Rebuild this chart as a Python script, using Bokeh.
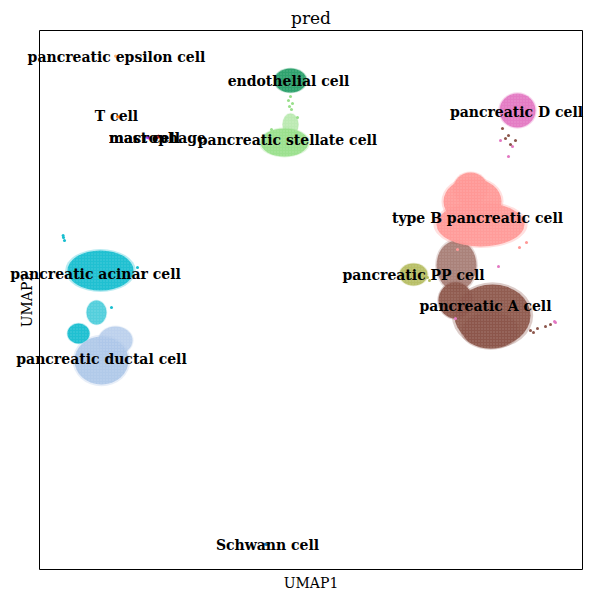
import math

from bokeh.plotting import figure
from bokeh.models import ColumnDataSource, Range1d
from bokeh.core.properties import value
from bokeh.embed import file_html
from bokeh.resources import INLINE

# categories and the scanpy default colours, in category order
cell_types = ["Schwann cell", "T cell", "endothelial cell", "macrophage", "mast cell",
              "pancreatic A cell", "pancreatic D cell", "pancreatic PP cell",
              "pancreatic acinar cell", "pancreatic ductal cell", "pancreatic epsilon cell",
              "pancreatic stellate cell", "type B pancreatic cell"]
palette = ["#1f77b4", "#ff7f0e", "#279e68", "#d62728", "#aa40fc", "#8c564b", "#e377c2",
           "#b5bd61", "#17becf", "#aec7e8", "#ffbb78", "#98df8a", "#ff9896"]

# cluster medians (where the labels go)
label_x = [9.4, 1.85, 10.45, 3.9, 3.25, 20.3, 21.85, 16.7, 0.8, 1.1, 1.85, 10.4, 19.9]
label_y = [-0.75, 20.7, 22.45, 19.6, 19.6, 11.2, 20.9, 12.75, 12.8, 8.55, 23.65, 19.5, 15.6]

# dense parts of each cluster (centre, spread, density)
blob_type = ["pancreatic ductal cell", "pancreatic ductal cell",
             "pancreatic acinar cell", "pancreatic acinar cell", "pancreatic acinar cell",
             "endothelial cell", "pancreatic stellate cell", "pancreatic stellate cell",
             "pancreatic D cell", "pancreatic A cell",
             "type B pancreatic cell", "type B pancreatic cell", "type B pancreatic cell",
             "pancreatic A cell", "pancreatic A cell", "pancreatic A cell",
             "pancreatic PP cell"]
blob_x = [1.1, 1.8, 1.05, 0.85, -0.05, 10.55, 10.25, 10.55, 21.9, 18.85,
          20.05, 19.65, 19.55, 20.65, 20.55, 18.8, 16.7]
blob_y = [8.45, 9.45, 12.95, 10.85, 9.8, 22.45, 19.35, 20.25, 20.95, 13.2,
          15.25, 16.4, 17.05, 10.7, 9.95, 11.45, 12.75]
blob_w = [2.7, 1.7, 3.3, 1.0, 1.1, 1.6, 2.4, 0.8, 1.8, 2.0,
          4.4, 2.9, 1.7, 3.8, 2.8, 1.7, 1.4]
blob_h = [2.4, 1.4, 2.0, 1.2, 1.0, 1.2, 1.4, 1.1, 1.7, 2.5,
          2.2, 2.3, 1.6, 3.1, 1.8, 1.8, 1.1]
blob_density = [1, 0.8, 1, 0.7, 1, 1, 1, 0.6, 1, 0.7,
                1, 1, 1, 1, 1, 1, 1]

# single cells and small groups
pt_type = (["Schwann cell"] * 2 + ["T cell"] * 2 + ["pancreatic epsilon cell"] * 2
           + ["mast cell"] * 3 + ["macrophage"] * 4 + ["pancreatic stellate cell"] * 7
           + ["pancreatic D cell"] * 3 + ["pancreatic A cell"] * 10
           + ["pancreatic D cell"] * 4 + ["pancreatic acinar cell"] * 5
           + ["type B pancreatic cell"] * 3 + ["pancreatic PP cell"] * 2)
pt_x = [9.35, 9.3, 1.9, 1.97, 1.85, 1.8,
        3.4, 3.47, 3.44, 3.8, 3.9, 4.05, 3.95,
        10.55, 10.45, 10.65, 10.5, 10.6, 9.6, 10.9,
        21.05, 21.65, 21.45,
        21.15, 21.45, 21.8, 21.3, 21.55, 22.55, 22.9, 23.3, 23.55, 22.7,
        23.8, 23.75, 18.8, 20.95,
        -0.8, -0.75, -0.82, 2.9, 1.6,
        22.35, 22.0, 18.9,
        17.4, 17.5]
pt_y = [-0.75, -0.72, 20.65, 20.62, 23.65, 23.67,
        19.6, 19.57, 19.64, 19.65, 19.6, 19.62, 19.68,
        21.65, 21.45, 21.3, 21.15, 21.0, 20.0, 20.6,
        19.45, 19.15, 18.65,
        20.05, 19.7, 19.45, 19.55, 19.25, 9.95, 10.05, 10.15, 10.25, 9.85,
        10.35, 10.4, 10.55, 13.15,
        14.6, 14.45, 14.7, 13.1, 11.1,
        14.35, 14.1, 14.0,
        12.6, 12.45]

# axes limits of the UMAP panel
x_lim = (-2.0, 25.15)
y_lim = (-2.0, 24.95)

colour_of = dict(zip(cell_types, palette))

blobs = ColumnDataSource(dict(
    x=blob_x, y=blob_y, w=blob_w, h=blob_h,
    hw=[w * 1.07 for w in blob_w], hh=[h * 1.07 for h in blob_h],
    alpha=[0.95 * d for d in blob_density], halo=[0.3 * d for d in blob_density],
    color=[colour_of[t] for t in blob_type]))
points = ColumnDataSource(dict(x=pt_x, y=pt_y, color=[colour_of[t] for t in pt_type]))
labels = ColumnDataSource(dict(x=label_x, y=label_y, text=cell_types))

# the frame fills the whole canvas (20 px per unit) so that labels can run
# past the axes box, as matplotlib lets them; the box itself is drawn below
W, H = 592, 599
pad_l, pad_r, pad_t, pad_b = 39, 10, 30, 30
ppu = (W - pad_l - pad_r) / (x_lim[1] - x_lim[0])
x_full = (x_lim[0] - pad_l / ppu, x_lim[1] + pad_r / ppu)
y_full = (y_lim[0] - pad_b / ppu, y_lim[1] + pad_t / ppu)

p = figure(width=W, height=H, x_range=Range1d(*x_full), y_range=Range1d(*y_full),
           output_backend="svg", toolbar_location=None,
           x_axis_location=None, y_axis_location=None, min_border=0)
p.title.visible = False
p.grid.visible = False
p.outline_line_color = None

p.ellipse(x="x", y="y", width="hw", height="hh", source=blobs, fill_color="color",
          fill_alpha="halo", line_color=None)
p.ellipse(x="x", y="y", width="w", height="h", source=blobs, fill_color="color",
          fill_alpha="alpha", line_color=None,
          hatch_pattern="dot", hatch_color="white", hatch_alpha=0.2, hatch_scale=3)
p.scatter(x="x", y="y", source=points, size=3, fill_color="color", line_color=None)

# axes box
p.quad(left=[x_lim[0]], right=[x_lim[1]], bottom=[y_lim[0]], top=[y_lim[1]],
       fill_color=None, line_color="black", line_width=1)

p.text(x="x", y="y", text="text", source=labels, text_font=value("DejaVu Serif"),
       text_font_style="bold", text_font_size="14px", text_align="center",
       text_baseline="middle", text_color="black")

x_mid = (x_lim[0] + x_lim[1]) / 2
y_mid = (y_lim[0] + y_lim[1]) / 2
p.text(x=[x_mid], y=[y_lim[1] + 13 / ppu], text=["pred"], text_font=value("DejaVu Serif"),
       text_font_size="17px", text_align="center", text_baseline="middle",
       text_color="black")
p.text(x=[x_mid], y=[y_lim[0] - 13 / ppu], text=["UMAP1"], text_font=value("DejaVu Serif"),
       text_font_size="14px", text_align="center", text_baseline="middle",
       text_color="black")
p.text(x=[x_lim[0] - 13 / ppu], y=[y_mid], text=["UMAP2"], text_font=value("DejaVu Serif"),
       text_font_size="14px", text_align="center", text_baseline="middle",
       text_color="black", angle=math.pi / 2)

open("out.html", "w").write(file_html(p, INLINE))
